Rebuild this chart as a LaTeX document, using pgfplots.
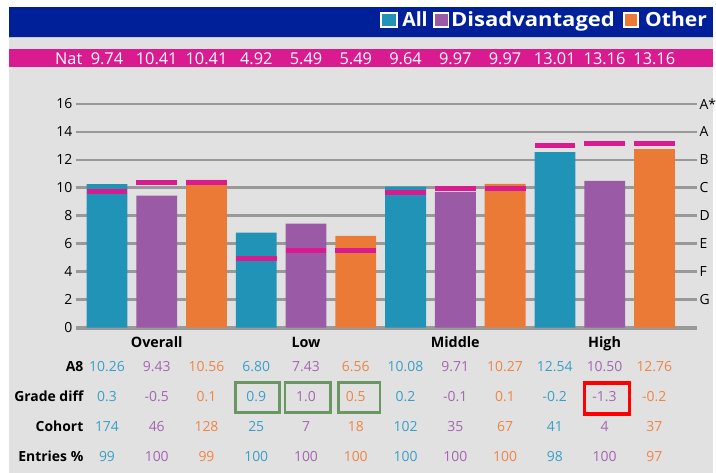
\documentclass[border=0pt]{standalone}
\usepackage{fontspec}
\setmainfont{Open Sans}
\usepackage{pgfplots}
\pgfplotsset{compat=1.18}
\definecolor{cAll}{HTML}{2193B7}
\definecolor{cDis}{HTML}{9B5AA5}
\definecolor{cOth}{HTML}{EC7A37}
\definecolor{cMag}{HTML}{DA1B8F}
\definecolor{cNavy}{HTML}{00209A}
\definecolor{cBg}{HTML}{E1E1E1}
\definecolor{cGrid}{HTML}{999999}
\definecolor{cGreen}{HTML}{6A9664}
\definecolor{tAll}{HTML}{3A9FC6}
\definecolor{tDis}{HTML}{A466B0}
\definecolor{tOth}{HTML}{EE8545}
\begin{document}
\begin{tikzpicture}
\begin{scope}[x=0.75pt,y=-0.75pt]
\useasboundingbox (0,0) rectangle (716,475);
\fill[white] (0,0) rectangle (716,475);
\fill[cBg] (9,36.7) rectangle (716,475);
\fill[cNavy] (9,7) rectangle (716,36.7);
\fill[cMag] (9,49) rectangle (716,67.7);
\draw[cBg!88!black, line width=0.75pt] (9,37.3) -- (716,37.3);
% legend in banner
\draw[fill=cAll, draw=white, line width=1.5pt] (383,12.7) rectangle (398.5,27.3);
\draw[fill=cDis, draw=white, line width=1.5pt] (436,12.7) rectangle (450.7,27.3);
\draw[fill=cOth, draw=white, line width=1.5pt] (627,12.7) rectangle (640.7,27.3);
\node[anchor=base west, inner sep=0pt, text=white, font=\bfseries\fontsize{14.7}{16}\selectfont] at (404,26.7) {All};
\node[anchor=base west, inner sep=0pt, text=white, font=\bfseries\fontsize{14.7}{16}\selectfont] at (453,26.7) {\scalebox{1.13}[1]{Disadvantaged}};
\node[anchor=base west, inner sep=0pt, text=white, font=\bfseries\fontsize{14.7}{16}\selectfont] at (648,26.7) {\scalebox{1.08}[1]{Other}};
% Nat row
\node[anchor=base east, inner sep=0pt, text=white, font=\fontsize{12.3}{14}\selectfont] at (83,65) {Nat};
\foreach \v [count=\i from 0] in {9.74,10.41,10.41,4.92,5.49,5.49,9.64,9.97,9.97,13.01,13.16,13.16}
  \node[anchor=base, inner sep=0pt, text=white, font=\fontsize{12.3}{14}\selectfont] at ({107.5+50*\i},65) {\v};
\end{scope}
% main axis
\begin{axis}[at={(57pt,-246.975pt)}, anchor=south west, scale only axis,
  width=468.5pt, height=168.75pt,
  xmin=-0.63, xmax=11.86, ymin=0, ymax=16,
  axis line style={draw=none}, xtick=\empty, ytick={0,2,...,16},
  ymajorgrids, grid style={cGrid, line width=1.9pt},
  major tick length=0pt, tick style={draw=none},
  /pgf/number format/assume math mode=true,
  yticklabel style={font=\fontsize{10.5}{12}\selectfont, inner sep=0pt, xshift=-2.25pt},
  clip=false]
\draw[cGrid, line width=3pt] (axis cs:-0.63,0) -- (axis cs:11.86,0);
\addplot[ybar, bar width=0.82, bar shift=0pt, fill=cAll, draw=none] coordinates {(0,10.26) (3,6.80) (6,10.08) (9,12.54)};
\addplot[ybar, bar width=0.82, bar shift=0pt, fill=cDis, draw=none] coordinates {(1,9.43) (4,7.43) (7,9.71) (10,10.50)};
\addplot[ybar, bar width=0.82, bar shift=0pt, fill=cOth, draw=none] coordinates {(2,10.56) (5,6.56) (8,10.27) (11,12.76)};
\addplot[only marks, mark=-, mark size=15.375pt, mark options={line width=3.75pt, draw=cMag}] coordinates {
 (0,9.74) (1,10.41) (2,10.41) (3,4.92) (4,5.49) (5,5.49) (6,9.64) (7,9.97) (8,9.97) (9,13.01) (10,13.16) (11,13.16)};
\end{axis}
% right grade axis
\begin{axis}[at={(57pt,-246.975pt)}, anchor=south west, scale only axis,
  width=468.5pt, height=168.75pt,
  xmin=-0.63, xmax=11.86, ymin=0, ymax=16,
  axis line style={draw=none}, xtick=\empty,
  ytick={2,4,...,16}, yticklabels={G,F,E,D,C,B,A,A*},
  yticklabel pos=right, major tick length=0pt, tick style={draw=none},
  yticklabel style={font=\fontsize{10.5}{12}\selectfont, inner sep=0pt, xshift=1.5pt},
  clip=false]
\addplot[draw=none] coordinates {(0,0)};
\end{axis}
\begin{scope}[x=0.75pt,y=-0.75pt]
% category labels
\foreach \c [count=\i from 0] in {Overall,Low,Middle,High}
  \node[anchor=base, inner sep=0pt, font=\bfseries\fontsize{10.8}{12}\selectfont] at ({157.5+150*\i},349.3) {\c};
% row labels
\foreach \r/\y in {A8/373.3,Grade diff/403.3,Cohort/433.3,Entries \%/463.3}
  \node[anchor=base east, inner sep=0pt, font=\bfseries\fontsize{10.5}{12}\selectfont] at (84,\y) {\r};
% table values
\foreach \v/\c [count=\i from 0] in {10.26/tAll,9.43/tDis,10.56/tOth,6.80/tAll,7.43/tDis,6.56/tOth,10.08/tAll,9.71/tDis,10.27/tOth,12.54/tAll,10.50/tDis,12.76/tOth}
  \node[anchor=base, inner sep=0pt, text=\c, font=\fontsize{10.5}{12}\selectfont] at ({107.5+50*\i},373.3) {\v};
\foreach \v/\c [count=\i from 0] in {0.3/tAll,-0.5/tDis,0.1/tOth,0.9/tAll,1.0/tDis,0.5/tOth,0.2/tAll,-0.1/tDis,0.1/tOth,-0.2/tAll,-1.3/tDis,-0.2/tOth}
  \node[anchor=base, inner sep=0pt, text=\c, font=\fontsize{10.5}{12}\selectfont] at ({107.5+50*\i},403.3) {\v};
\foreach \v/\c [count=\i from 0] in {174/tAll,46/tDis,128/tOth,25/tAll,7/tDis,18/tOth,102/tAll,35/tDis,67/tOth,41/tAll,4/tDis,37/tOth}
  \node[anchor=base, inner sep=0pt, text=\c, font=\fontsize{10.5}{12}\selectfont] at ({107.5+50*\i},433.3) {\v};
\foreach \v/\c [count=\i from 0] in {99/tAll,100/tDis,99/tOth,100/tAll,100/tDis,100/tOth,100/tAll,100/tDis,100/tOth,98/tAll,100/tDis,97/tOth}
  \node[anchor=base, inner sep=0pt, text=\c, font=\fontsize{10.5}{12}\selectfont] at ({107.5+50*\i},463.3) {\v};
% highlight boxes
\draw[cGreen, line width=2pt] (236.4,384.6) rectangle (281,414.4);
\draw[cGreen, line width=2pt] (286.4,384.6) rectangle (332,414.4);
\draw[cGreen, line width=2pt] (340.4,384.6) rectangle (382,414.4);
\draw[red, line width=2.5pt] (587.3,385) rectangle (632.3,416);
\end{scope}
\end{tikzpicture}
\end{document}
